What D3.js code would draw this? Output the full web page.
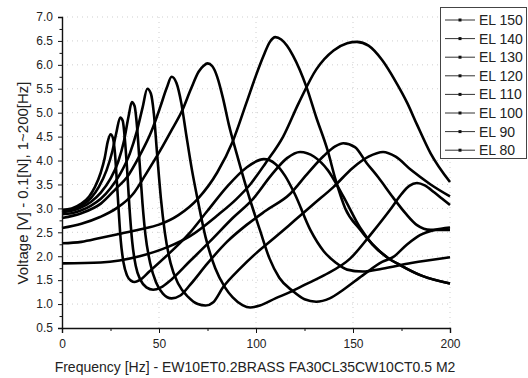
<!DOCTYPE html>
<html>
<head>
<meta charset="utf-8">
<script src="https://cdn.jsdelivr.net/npm/d3@7"></script>
<style>
  body { margin: 0; background: #fff; }
  text { font-family: Arial, "Liberation Sans", sans-serif; }
</style>
</head>
<body>
<svg id="chart" width="528" height="378"></svg>
<script>
// legend names, top to bottom
const seriesNames = ["EL 150", "EL 140", "EL 130", "EL 120", "EL 110", "EL 100", "EL 90", "EL 80"];

// [frequency Hz, voltage V]
const el150 = [[0,2.97],[5,3.0],[10,3.1],[14,3.25],[17,3.45],[20,3.75],[22,4.05],[23.5,4.38],[25,4.55],[26.2,4.48],[27.3,4.15],[28.3,3.55],[29.3,2.9],[30.3,2.32],[31.7,1.87],[33.5,1.6],[35.5,1.49],[37.5,1.46],[40,1.5],[45,1.68],[55,2.05],[65,2.45],[75,2.95],[85,3.45],[95,3.85],[104,4.03],[110,3.93],[115,3.68],[120,3.3],[128,2.55],[135,2.1],[141,1.87],[147,1.72],[155,1.68],[165,1.74],[180,1.86],[200,1.98]];
const el140 = [[0,2.95],[5,2.98],[10,3.06],[15,3.22],[19,3.45],[23,3.8],[26,4.2],[28,4.58],[30,4.9],[31.3,4.83],[32.4,4.45],[33.5,3.85],[34.8,3.0],[36.2,2.3],[38,1.8],[40.5,1.5],[43.5,1.35],[47,1.3],[51,1.35],[56,1.5],[66,1.9],[76,2.3],[88,2.8],[98.5,3.2],[108,3.7],[116,4.05],[122.7,4.18],[130,4.08],[137,3.8],[145,3.25],[153.6,2.6],[160,2.25],[167.5,1.98],[175,1.8],[185,1.6],[200,1.43]];
const el130 = [[0,2.92],[5,2.95],[10,3.02],[15,3.14],[20,3.33],[25,3.62],[29,3.98],[32,4.42],[34.3,4.92],[36,5.22],[37.4,5.14],[38.7,4.7],[40,3.95],[41.5,3.1],[43,2.45],[45.5,1.85],[48.5,1.45],[52,1.22],[56.5,1.12],[61,1.18],[66,1.4],[75,1.85],[85,2.3],[95,2.65],[105,2.95],[117.5,3.3],[126,3.7],[135,4.1],[141,4.3],[145,4.36],[151,4.28],[157,3.95],[163,3.65],[170.6,3.23],[177,2.9],[183,2.65],[190,2.55],[200,2.55]];
const el120 = [[0,2.88],[5,2.9],[10,2.96],[15,3.06],[20,3.2],[25,3.42],[30,3.72],[35,4.15],[38.5,4.6],[41.5,5.1],[44,5.5],[45.8,5.4],[47.3,5.0],[49,4.15],[51,3.2],[53,2.5],[56,1.85],[60,1.42],[65,1.15],[70,1.0],[74,0.97],[78,1.04],[83,1.35],[92,1.75],[100,2.06],[110,2.4],[120,2.75],[130,3.1],[140,3.45],[150,3.85],[158,4.08],[165.5,4.18],[172,4.08],[180,3.8],[190,3.5],[200,3.25]];
const el110 = [[0,2.8],[10,2.9],[20,3.1],[28,3.42],[33.5,3.65],[40,4.1],[46,4.6],[50.5,5.1],[54,5.52],[56.5,5.75],[59,5.62],[61.5,5.2],[64,4.55],[67,3.8],[70,3.17],[74,2.4],[79,1.75],[84,1.35],[88,1.14],[93,0.98],[97,0.93],[102,0.97],[110,1.12],[117.5,1.25],[125,1.4],[135,1.6],[148.5,1.95],[160,2.5],[170,3.02],[175,3.3],[179,3.47],[183,3.53],[187,3.48],[192,3.33],[196,3.2],[200,3.07]];
const el100 = [[0,2.59],[10,2.68],[19.6,2.82],[28,3.0],[36.6,3.3],[43,3.7],[50.5,4.2],[56,4.6],[62,5.05],[66.5,5.5],[70.5,5.86],[73,5.98],[75,6.03],[77.5,5.97],[80,5.75],[83,5.3],[86,4.75],[90,4.15],[97,3.17],[102,2.55],[107,1.95],[112,1.55],[119,1.27],[125,1.1],[131,1.05],[138,1.12],[145,1.3],[155,1.6],[165,1.88],[170.6,1.98],[178,2.25],[184.5,2.44],[192,2.55],[200,2.6]];
const el90 = [[0,2.27],[10,2.3],[19.6,2.38],[30,2.47],[40,2.56],[50,2.66],[60,2.86],[70,3.2],[80,3.75],[88,4.4],[95,5.2],[100,5.78],[104,6.2],[107,6.47],[110,6.58],[113,6.53],[116,6.4],[119,6.2],[126,5.54],[131,4.91],[137,4.2],[141,3.6],[146,3.0],[153.6,2.56],[160,2.25],[167.5,1.98],[175,1.8],[185,1.6],[200,1.43]];
const el80 = [[0,1.85],[20,1.87],[40,2.0],[55,2.2],[66,2.42],[80,2.85],[90,3.2],[97,3.5],[105,3.95],[114,4.5],[122,5.2],[131,5.9],[140,6.3],[147,6.45],[152,6.48],[158,6.4],[165,6.1],[172,5.65],[178,5.2],[183,4.75],[190,4.15],[200,3.55]];

const seriesValues = [el150, el140, el130, el120, el110, el100, el90, el80];

const xTicks = [0, 50, 100, 150, 200];
const xMinor = [25, 75, 125, 175];
const yTicks = [0.5, 1.0, 1.5, 2.0, 2.5, 3.0, 3.5, 4.0, 4.5, 5.0, 5.5, 6.0, 6.5, 7.0];
const yMinor = [0.75, 1.25, 1.75, 2.25, 2.75, 3.25, 3.75, 4.25, 4.75, 5.25, 5.75, 6.25, 6.75];

const xTitle = "Frequency [Hz] - EW10ET0.2BRASS FA30CL35CW10CT0.5 M2";
const yTitle = "Voltage [V] - 0.1[N], 1~200[Hz]";

var width = 528, height = 378,
    margin = {top: 17, right: 78, bottom: 50, left: 62};

var svg = d3.select("#chart");

var x = d3.scaleLinear().domain([0, 200]).range([margin.left, width - margin.right]);
var y = d3.scaleLinear().domain([0.5, 7]).range([height - margin.bottom, margin.top]);

// faint dotted grid
svg.append("g").selectAll("line")
  .data(xTicks.slice(1))
  .enter().append("line")
  .attr("x1", d => x(d)).attr("x2", d => x(d))
  .attr("y1", y(0.5)).attr("y2", y(7))
  .attr("stroke", "#cfcfcf").attr("stroke-dasharray", "1,4");

svg.append("g").selectAll("line")
  .data(yTicks.slice(1))
  .enter().append("line")
  .attr("x1", x(0)).attr("x2", x(200))
  .attr("y1", d => y(d)).attr("y2", d => y(d))
  .attr("stroke", "#cfcfcf").attr("stroke-dasharray", "1,4");

// curves
var line = d3.line()
  .x(d => x(d[0]))
  .y(d => y(d[1]))
  .curve(d3.curveMonotoneX);

svg.append("g").selectAll("path")
  .data(seriesValues)
  .enter().append("path")
  .attr("d", line)
  .attr("fill", "none")
  .attr("stroke", "#000")
  .attr("stroke-width", 2.6)
  .attr("stroke-linejoin", "round");

// axes
svg.append("g")
  .attr("transform", `translate(0,${y(0.5)})`)
  .call(d3.axisBottom(x).tickValues(xTicks).tickSize(5).tickPadding(6).tickFormat(d3.format("d")));
svg.append("g")
  .attr("transform", `translate(0,${y(0.5)})`)
  .call(d3.axisBottom(x).tickValues(xMinor).tickSize(3).tickFormat(""))
  .select(".domain").remove();

svg.append("g")
  .attr("transform", `translate(${x(0)},0)`)
  .call(d3.axisLeft(y).tickValues(yTicks).tickSize(4).tickPadding(5).tickFormat(d3.format(".1f")));
svg.append("g")
  .attr("transform", `translate(${x(0)},0)`)
  .call(d3.axisLeft(y).tickValues(yMinor).tickSize(2.5).tickFormat(""))
  .select(".domain").remove();

svg.selectAll(".domain").attr("stroke", "#111").attr("stroke-width", 1.4);
svg.selectAll(".tick line").attr("stroke", "#111");
svg.selectAll(".tick text")
  .attr("font-family", "Arial, 'Liberation Sans', sans-serif")
  .attr("font-size", "12px")
  .attr("fill", "#222");

// axis titles
svg.append("text")
  .attr("x", 255).attr("y", 372)
  .attr("text-anchor", "middle")
  .attr("font-size", "14px")
  .attr("fill", "#222")
  .text(xTitle);

svg.append("text")
  .attr("transform", "translate(28,183) rotate(-90)")
  .attr("text-anchor", "middle")
  .attr("font-size", "15px")
  .attr("fill", "#222")
  .text(yTitle);

// legend
var legend = svg.append("g");
legend.append("rect")
  .attr("x", 440.5).attr("y", 7.5)
  .attr("width", 86).attr("height", 151)
  .attr("fill", "#fff")
  .attr("stroke", "#444");

var item = legend.selectAll(".item")
  .data(seriesNames)
  .enter().append("g")
  .attr("class", "item")
  .attr("transform", (d, i) => `translate(0,${20 + i * 18.6})`);

item.append("line")
  .attr("x1", 445).attr("x2", 475)
  .attr("stroke", "#333").attr("stroke-width", 1);
item.append("rect")
  .attr("x", 458.5).attr("y", -1.5)
  .attr("width", 3).attr("height", 3)
  .attr("fill", "#111");
item.append("text")
  .attr("x", 479).attr("y", 5)
  .attr("font-size", "14px")
  .attr("fill", "#222")
  .text(d => d);
</script>
</body>
</html>
